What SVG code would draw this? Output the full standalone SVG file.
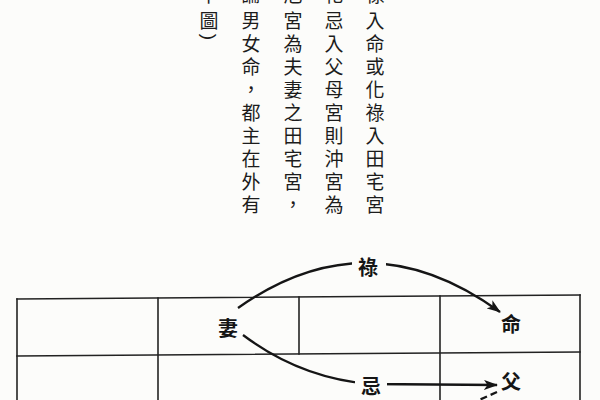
<svg xmlns="http://www.w3.org/2000/svg" width="600" height="400" viewBox="0 0 600 400">
  <defs>
    <style>
      .col { font-family: "Noto Sans CJK TC", "Noto Sans CJK SC", sans-serif; font-size: 19px; fill: #1c1c1c; text-anchor: middle; dominant-baseline: central; }
      .lbl { font-family: "Noto Sans CJK TC", "Noto Sans CJK SC", sans-serif; font-size: 20px; font-weight: 700; fill: #151515; text-anchor: middle; dominant-baseline: central; }
      .grid line { stroke: #222; stroke-width: 1.6; stroke-linecap: square; }
      .conn { fill: none; stroke: #151515; stroke-width: 2.3; }
      .gap { fill: #fcfcfa; }
    </style>
    <marker id="arrow" markerUnits="userSpaceOnUse" markerWidth="14" markerHeight="10" refX="13" refY="5" orient="auto">
      <path d="M0,0 L14,5 L0,10 L3.5,5 z" fill="#151515"/>
    </marker>
  </defs>
  <rect width="600" height="400" fill="#fcfcfa"/>

  <g id="text-block">
    <text class="col" x="375 334 293 251 209" y="-7">祿化厄論下</text>
    <text class="col" x="375 375 375 375 375 375 375 375 375" y="19.5 42.5 65.5 88.5 111.5 134.5 157.5 180.5 203.5">入命或化祿入田宅宮</text>
    <text class="col" x="334 334 334 334 334 334 334 334 334" y="19.5 42.5 65.5 88.5 111.5 134.5 157.5 180.5 203.5">忌入父母宮則沖宮為</text>
    <text class="col" x="293 293 293 293 293 293 293 293 293" y="19.5 42.5 65.5 88.5 111.5 134.5 157.5 180.5 203.5">宮為夫妻之田宅宮，</text>
    <text class="col" x="251 251 251 251 251 251 251 251 251" y="19.5 42.5 65.5 88.5 111.5 134.5 157.5 180.5 203.5">男女命，都主在外有</text>
    <text class="col" x="209" y="19.5">圖</text>
    <text x="209" y="37" transform="rotate(90 209 37)" style="font-family:'Liberation Sans',sans-serif;font-size:19px;fill:#1c1c1c;text-anchor:middle;dominant-baseline:central">)</text>
  </g>

  <g id="grid" class="grid">
    <line x1="17" y1="299" x2="580" y2="295"/>
    <line x1="17" y1="356" x2="580" y2="352"/>
    <line x1="17" y1="299" x2="17" y2="400"/>
    <line x1="158" y1="298" x2="158" y2="400"/>
    <line x1="299" y1="297" x2="299" y2="354"/>
    <line x1="440" y1="296" x2="440" y2="400"/>
    <line x1="580" y1="295" x2="580" y2="400"/>
  </g>

  <g id="connectors">
    <path id="edge-lu" class="conn" d="M238,308 Q368,216 500,312" marker-end="url(#arrow)"/>
    <path id="edge-ji" class="conn" d="M243,335 Q300,378 370,384 L497,385" marker-end="url(#arrow)"/>
    <path id="edge-dash" class="conn" d="M497,392 L468,405" stroke-dasharray="7 4"/>
    <rect class="gap" x="352" y="252" width="34" height="28"/>
    <text class="lbl" x="368" y="266">祿</text>
    <rect class="gap" x="355" y="372" width="32" height="28"/>
    <text class="lbl" x="371" y="385">忌</text>
  </g>

  <g id="node-qi"><text class="lbl" x="228" y="327">妻</text></g>
  <g id="node-ming"><text class="lbl" x="511" y="323">命</text></g>
  <g id="node-fu"><text class="lbl" x="511" y="380">父</text></g>
</svg>
